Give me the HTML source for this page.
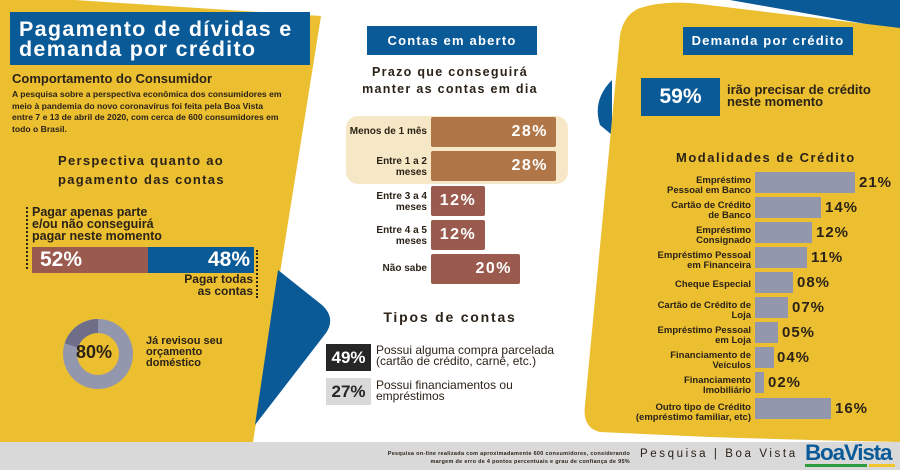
<!DOCTYPE html>
<html><head><meta charset="utf-8"><style>
*{margin:0;padding:0;box-sizing:border-box}
body{width:900px;height:470px;overflow:hidden;background:#fff;font-family:"Liberation Sans",sans-serif;color:#2b2218;position:relative}
.a{position:absolute}
.b{font-weight:bold}
.blue{background:#0a5a98;color:#fff}
.lbl{position:absolute;font-size:9.5px;font-weight:bold;text-align:right;line-height:10px;color:#2b2218;white-space:nowrap}
.rbar{position:absolute;height:21px;background:#9397ae}
.rv{position:absolute;font-size:15px;font-weight:bold;letter-spacing:1px}
.cl{position:absolute;font-size:10px;font-weight:bold;text-align:right;line-height:11px;width:85px;left:342px}
.cb{position:absolute;left:431px;height:30px;color:#fff;font-weight:bold;font-size:16px;letter-spacing:1.5px;text-align:right;padding-right:8px;line-height:30px;border-radius:2px}
</style></head><body>
<svg class="a" style="left:0;top:0" width="900" height="470">
  <polygon points="0,0 75,0 321,16 253,442 0,442" fill="#ebbf30"/>
  <path d="M278,270 L322,305 Q336,318 326,333 L255,425 Z" fill="#0a5a98"/>
  <path d="M730,0 L900,0 L900,30 Z" fill="#0a5a98"/>
  <path d="M612,80 Q592,100 600,125 L612,135 Z" fill="#0a5a98"/>
  <path d="M640,8 Q665,0 700,4 L900,28 L900,442 Q800,440 710,437 L600,432 Q582,428 585,405 L620,35 Q624,14 640,8 Z" fill="#ebbf30"/>
  <rect x="0" y="442" width="900" height="28" fill="#d9d9d9"/>
  <rect x="346" y="116" width="222" height="68" rx="12" fill="#f6e8c6"/>
  <circle cx="98" cy="354" r="35" fill="#9397ae"/>
  <path d="M98,354 L98,319 A35,35 0 0,0 64.7,343.2 Z" fill="#6e6e88"/>
  <circle cx="98" cy="354" r="21" fill="#ebbf30"/>
</svg>

<div class="a blue b" style="left:10px;top:12px;width:300px;height:53px;font-size:21.5px;line-height:20px;letter-spacing:1.3px;padding:7px 9px;white-space:nowrap">Pagamento de dívidas e<br>demanda por crédito</div>
<div class="a b" style="left:12px;top:71px;font-size:13px">Comportamento do Consumidor</div>
<div class="a b" style="left:12px;top:89px;font-size:8.6px;line-height:11.5px;width:295px;white-space:nowrap">A pesquisa sobre a perspectiva econômica dos consumidores em<br>meio à pandemia do novo coronavírus foi feita pela Boa Vista<br>entre 7 e 13 de abril de 2020, com cerca de 600 consumidores em<br>todo o Brasil.</div>
<div class="a b" style="left:58px;top:151px;font-size:13px;line-height:19px;letter-spacing:1.3px">Perspectiva quanto ao<br>pagamento das contas</div>
<div class="a" style="left:26px;top:207px;height:62px;border-left:2px dotted #2b2218"></div>
<div class="a b" style="left:32px;top:206px;font-size:12.5px;line-height:12px">Pagar apenas parte<br>e/ou não conseguirá<br>pagar neste momento</div>
<div class="a b" style="left:32px;top:247px;width:116px;height:26px;background:#9a5a4e;color:#fff;font-size:21px;line-height:26px;padding-left:8px">52%</div>
<div class="a b blue" style="left:148px;top:247px;width:106px;height:26px;font-size:21px;line-height:26px;text-align:right;padding-right:4px">48%</div>
<div class="a" style="left:256px;top:250px;height:48px;border-left:2px dotted #2b2218"></div>
<div class="a b" style="left:170px;top:274px;width:83px;text-align:right;font-size:12px;line-height:11.5px">Pagar todas<br>as contas</div>
<div class="a b" style="left:76px;top:342px;font-size:18px">80%</div>
<div class="a b" style="left:146px;top:336px;font-size:11px;line-height:11px">Já revisou seu<br>orçamento<br>doméstico</div>

<div class="a blue b" style="left:367px;top:26px;width:170px;height:29px;font-size:13px;line-height:29px;text-align:center;letter-spacing:1.2px">Contas em aberto</div>
<div class="a b" style="left:350px;top:64px;width:200px;text-align:center;font-size:12.5px;line-height:17px;letter-spacing:1.3px">Prazo que conseguirá<br>manter as contas em dia</div>
<div class="cl" style="top:126px">Menos de 1 mês</div>
<div class="cl" style="top:156px">Entre 1 a 2<br>meses</div>
<div class="cl" style="top:191px">Entre 3 a 4<br>meses</div>
<div class="cl" style="top:225px">Entre 4 a 5<br>meses</div>
<div class="cl" style="top:263px">Não sabe</div>
<div class="cb" style="top:117px;width:125px;background:#b07648">28%</div>
<div class="cb" style="top:151px;width:125px;background:#b07648">28%</div>
<div class="cb" style="top:186px;width:54px;background:#9a5a4e;text-align:center;padding:0">12%</div>
<div class="cb" style="top:220px;width:54px;background:#9a5a4e;text-align:center;padding:0">12%</div>
<div class="cb" style="top:254px;width:89px;background:#9a5a4e">20%</div>
<div class="a b" style="left:350px;top:309px;width:200px;text-align:center;font-size:14px;letter-spacing:1.8px">Tipos de contas</div>
<div class="a b" style="left:326px;top:344px;width:45px;height:27px;background:#262626;color:#fff;font-size:17px;line-height:27px;text-align:center">49%</div>
<div class="a" style="left:376px;top:345px;font-size:12px;line-height:11px">Possui alguma compra parcelada<br>(cartão de crédito, carnê, etc.)</div>
<div class="a b" style="left:326px;top:378px;width:45px;height:27px;background:#d9d9d9;color:#262626;font-size:17px;line-height:27px;text-align:center">27%</div>
<div class="a" style="left:376px;top:380px;font-size:12px;line-height:11px">Possui financiamentos ou<br>empréstimos</div>

<div class="a blue b" style="left:683px;top:27px;width:170px;height:28px;font-size:13px;line-height:28px;text-align:center;letter-spacing:1.2px">Demanda por crédito</div>
<div class="a blue b" style="left:641px;top:78px;width:79px;height:38px;font-size:21px;line-height:38px;text-align:center">59%</div>
<div class="a b" style="left:727px;top:84px;font-size:13px;line-height:12px">irão precisar de crédito<br>neste momento</div>
<div class="a b" style="left:676px;top:150px;font-size:13px;letter-spacing:1.5px">Modalidades de Crédito</div>

<div class="lbl" style="right:149px;top:176px">Empréstimo<br>Pessoal em Banco</div>
<div class="rbar" style="left:755px;top:172px;width:100px"></div><div class="rv" style="left:859px;top:174px">21%</div>
<div class="lbl" style="right:149px;top:201px">Cartão de Crédito<br>de Banco</div>
<div class="rbar" style="left:755px;top:197px;width:66px"></div><div class="rv" style="left:825px;top:199px">14%</div>
<div class="lbl" style="right:149px;top:226px">Empréstimo<br>Consignado</div>
<div class="rbar" style="left:755px;top:222px;width:57px"></div><div class="rv" style="left:816px;top:224px">12%</div>
<div class="lbl" style="right:149px;top:251px">Empréstimo Pessoal<br>em Financeira</div>
<div class="rbar" style="left:755px;top:247px;width:52px"></div><div class="rv" style="left:811px;top:249px">11%</div>
<div class="lbl" style="right:149px;top:280px">Cheque Especial</div>
<div class="rbar" style="left:755px;top:272px;width:38px"></div><div class="rv" style="left:797px;top:274px">08%</div>
<div class="lbl" style="right:149px;top:301px">Cartão de Crédito de<br>Loja</div>
<div class="rbar" style="left:755px;top:297px;width:33px"></div><div class="rv" style="left:792px;top:299px">07%</div>
<div class="lbl" style="right:149px;top:326px">Empréstimo Pessoal<br>em Loja</div>
<div class="rbar" style="left:755px;top:322px;width:23px"></div><div class="rv" style="left:782px;top:324px">05%</div>
<div class="lbl" style="right:149px;top:351px">Financiamento de<br>Veículos</div>
<div class="rbar" style="left:755px;top:347px;width:19px"></div><div class="rv" style="left:777px;top:349px">04%</div>
<div class="lbl" style="right:149px;top:376px">Financiamento<br>Imobiliário</div>
<div class="rbar" style="left:755px;top:372px;width:9px"></div><div class="rv" style="left:768px;top:374px">02%</div>
<div class="lbl" style="right:149px;top:403px">Outro tipo de Crédito<br>(empréstimo familiar, etc)</div>
<div class="rbar" style="left:755px;top:398px;width:76px"></div><div class="rv" style="left:835px;top:400px">16%</div>

<div class="a b" style="left:330px;top:450px;width:300px;text-align:right;font-size:5.5px;line-height:8px;letter-spacing:0.3px">Pesquisa on-line realizada com aproximadamente 600 consumidores, considerando<br>margem de erro de 4 pontos percentuais e grau de confiança de 95%</div>
<div class="a" style="left:640px;top:448px;font-size:11.5px;letter-spacing:2.6px;color:#2b2218">Pesquisa | Boa Vista</div>
<div class="a b" style="left:805px;top:440px;font-size:22.5px;color:#0a5a98;letter-spacing:-1.2px">BoaVista</div>
<div class="a" style="left:805px;top:464px;width:62px;height:3px;background:#2e9b3e"></div>
<div class="a" style="left:869px;top:464px;width:26px;height:3px;background:#f2c72c"></div>
</body></html>
